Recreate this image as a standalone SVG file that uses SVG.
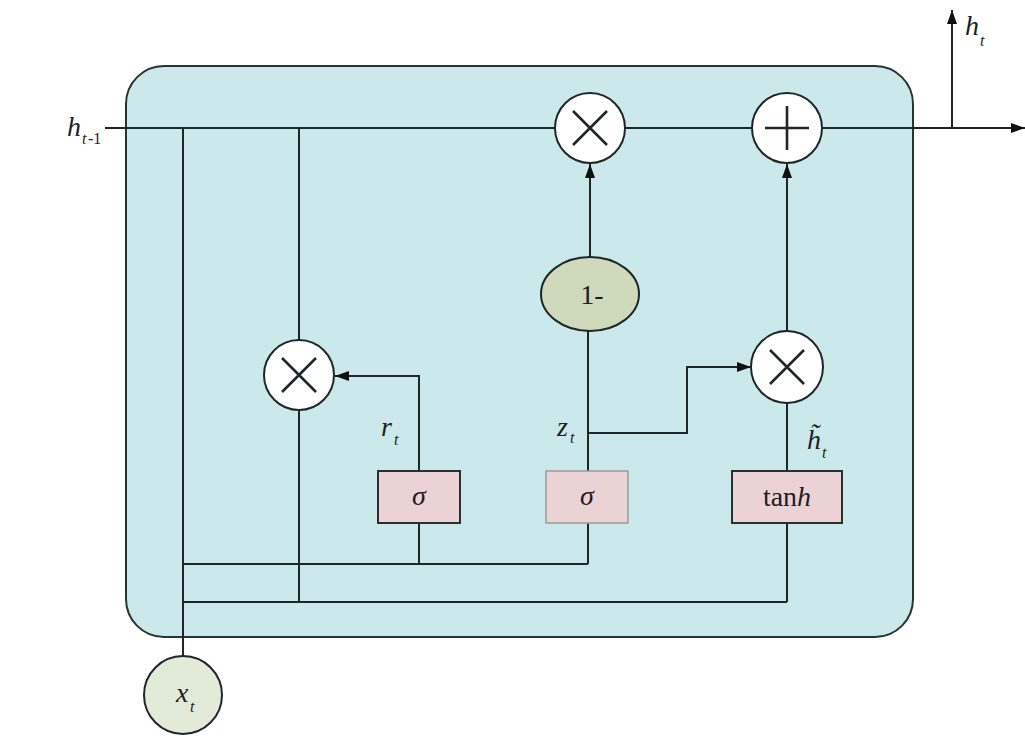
<svg xmlns="http://www.w3.org/2000/svg" width="1025" height="740" viewBox="0 0 1025 740">
<style>
.ln{fill:none;stroke:#1e2629;stroke-width:2}
.op{fill:#fff;stroke:#1e2629;stroke-width:2}
.sym{stroke:#1e2629;stroke-width:2.6;fill:none}
.box{fill:#ebd2d4;stroke:#2a2f31;stroke-width:2}
.t{font-family:"Liberation Serif",serif;font-size:28px;fill:#231f20}
.i{font-style:italic}
.s{font-family:"Liberation Serif",serif;font-style:italic;font-size:16px;fill:#231f20}
</style>
<defs>
<marker id="ah" viewBox="0 0 14 10" refX="14" refY="5" markerWidth="14" markerHeight="10" markerUnits="userSpaceOnUse" orient="auto">
<path d="M0,0 L14,5 L0,10 Z" fill="#111"/>
</marker>
</defs>
<rect x="126" y="66" width="787" height="571" rx="38" ry="38" fill="#cbe9eb" stroke="#2a3234" stroke-width="2"/>
<g id="connectors">
<line class="ln" x1="105" y1="128" x2="1025" y2="128" marker-end="url(#ah)"/>
<line class="ln" x1="952" y1="128" x2="952" y2="10" marker-end="url(#ah)"/>
<line class="ln" x1="183" y1="128" x2="183" y2="656"/>
<line class="ln" x1="299" y1="128" x2="299" y2="602"/>
<line class="ln" x1="183" y1="564" x2="588" y2="564"/>
<line class="ln" x1="183" y1="602" x2="787" y2="602"/>
<polyline class="ln" points="419,564 419,376 335,376" marker-end="url(#ah)"/>
<line class="ln" x1="588" y1="564" x2="588" y2="331"/>
<line class="ln" x1="590" y1="257" x2="590" y2="164" marker-end="url(#ah)"/>
<polyline class="ln" points="588,433 687,433 687,367 751,367" marker-end="url(#ah)"/>
<line class="ln" x1="787" y1="602" x2="787" y2="403"/>
<line class="ln" x1="787" y1="331" x2="787" y2="164" marker-end="url(#ah)"/>
</g>
<g id="mul1"><circle class="op" cx="590" cy="128" r="35"/><path class="sym" d="M573,111 L607,145 M607,111 L573,145"/></g>
<g id="add1"><circle class="op" cx="787" cy="128" r="35"/><path class="sym" d="M765,128 L809,128 M787,106 L787,150"/></g>
<g id="mulr"><circle class="op" cx="299" cy="375" r="35"/><path class="sym" d="M282,358 L316,392 M316,358 L282,392"/></g>
<g id="mulh"><circle class="op" cx="787" cy="367" r="36"/><path class="sym" d="M770,350 L804,384 M804,350 L770,384"/></g>
<g id="oneminus"><ellipse cx="590" cy="294" rx="49" ry="37" fill="#cfd9bb" stroke="#1e2629" stroke-width="2"/><text class="t" x="592" y="304" text-anchor="middle">1-</text></g>
<g id="sig_r"><rect class="box" x="378" y="471" width="82" height="52"/><text class="t i" x="419" y="505" text-anchor="middle">σ</text></g>
<g id="sig_z"><rect x="546" y="471" width="82" height="52" fill="#ebd2d4" stroke="#9a9a9a" stroke-width="1.5"/><text class="t i" x="587" y="505" text-anchor="middle">σ</text></g>
<g id="tanh"><rect class="box" x="732" y="471" width="110" height="52"/><text class="t" x="787" y="506" text-anchor="middle">tan<tspan font-style="italic">h</tspan></text></g>
<g id="xt"><circle cx="183" cy="695" r="39" fill="#e2ead8" stroke="#1e2629" stroke-width="2"/><text class="t i" x="176" y="702">x</text><text class="s" x="190" y="712">t</text></g>
<g id="labels">
<text class="t i" x="67" y="136">h</text><text class="s" x="82" y="144">t</text><text class="s" x="88" y="144" style="font-style:normal">-1</text>
<text class="t i" x="965" y="35">h</text><text class="s" x="980" y="46">t</text>
<text class="t i" x="381" y="436">r</text><text class="s" x="394" y="445">t</text>
<text class="t i" x="557" y="436">z</text><text class="s" x="570" y="443">t</text>
<text class="t i" x="807" y="449">h̃</text><text class="s" x="822" y="458">t</text>
</g>
</svg>
